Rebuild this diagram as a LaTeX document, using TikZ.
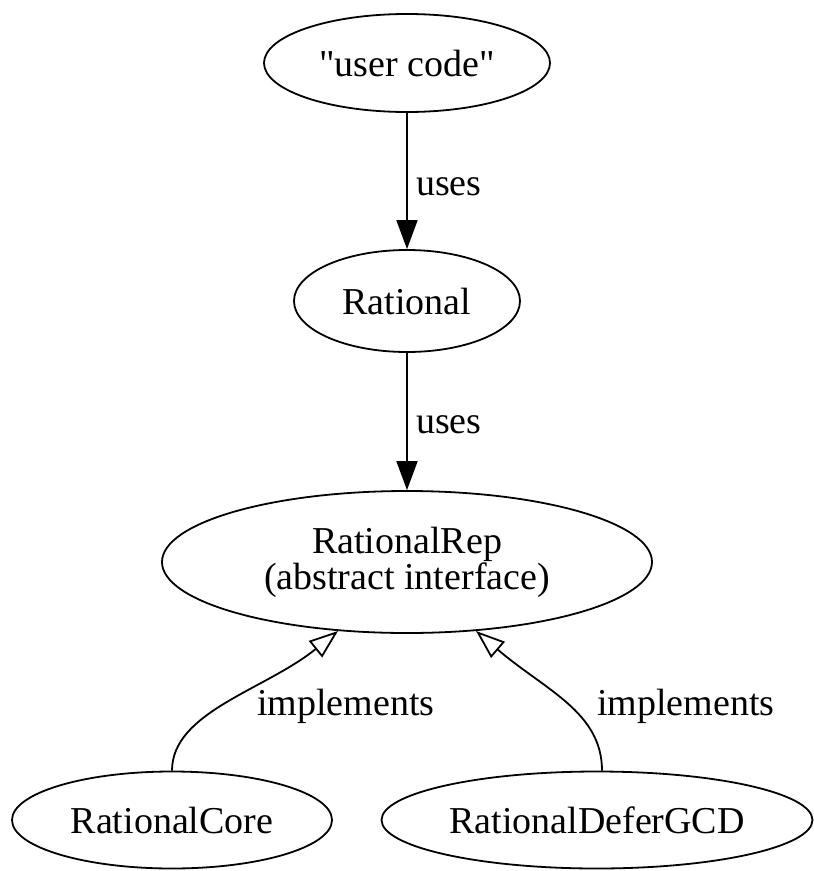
\documentclass[tikz,border=0pt]{standalone}
\usepackage{fontspec}
\setmainfont{Liberation Serif}
\newfontfamily\noligfont{Liberation Serif}[Ligatures=TeXOff]
\usetikzlibrary{arrows.meta,shapes.geometric}
\begin{document}
\begin{tikzpicture}[x=1pt,y=-1pt,
  every node/.style={font=\fontsize{38}{36}\selectfont},
  ell/.style={draw, ellipse, line width=1.8pt, inner sep=0pt, align=center},
  lbl/.style={anchor=base west, inner sep=0pt},
  usesarrow/.style={line width=1.8pt, -{Triangle[length=29pt,width=21pt]}},
  implarrow/.style={line width=1.8pt, -{Triangle[open,length=29pt,width=21pt,line width=1.8pt]}}]
\useasboundingbox (0,0) rectangle (814,871);
\node[ell, minimum width=286pt, minimum height=98pt] (uc) at (407,63) {\makebox[0pt]{\noligfont "user code"}};
\node[ell, minimum width=226pt, minimum height=102pt] (rat) at (407,301) {\makebox[0pt]{Rational}};
\node[ell, minimum width=490pt, minimum height=142pt] (rep) at (407,562) {RationalRep\\(abstract interface)};
\node[ell, minimum width=320pt, minimum height=97pt] (core) at (172,820) {\makebox[0pt]{RationalCore}};
\node[ell, minimum width=431pt, minimum height=97pt] (gcd) at (597,820) {\makebox[0pt]{RationalDeferGCD}};
\draw[usesarrow] (uc.south) -- (rat.north);
\draw[usesarrow] (rat.south) -- (rep.north);
\node[lbl] (l1) at (416,195) {uses};
\node[lbl] (l2) at (416,433) {uses};
\draw[implarrow] (core.north) .. controls (172,712) and (265,690) .. (rep.-135);
\draw[implarrow] ([xshift=5pt]gcd.north) .. controls (602,712) and (545,690) .. (rep.-45);
\node[lbl] (l3) at (257,715) {implements};
\node[lbl] (l4) at (597,715) {implements};
\end{tikzpicture}
\end{document}
